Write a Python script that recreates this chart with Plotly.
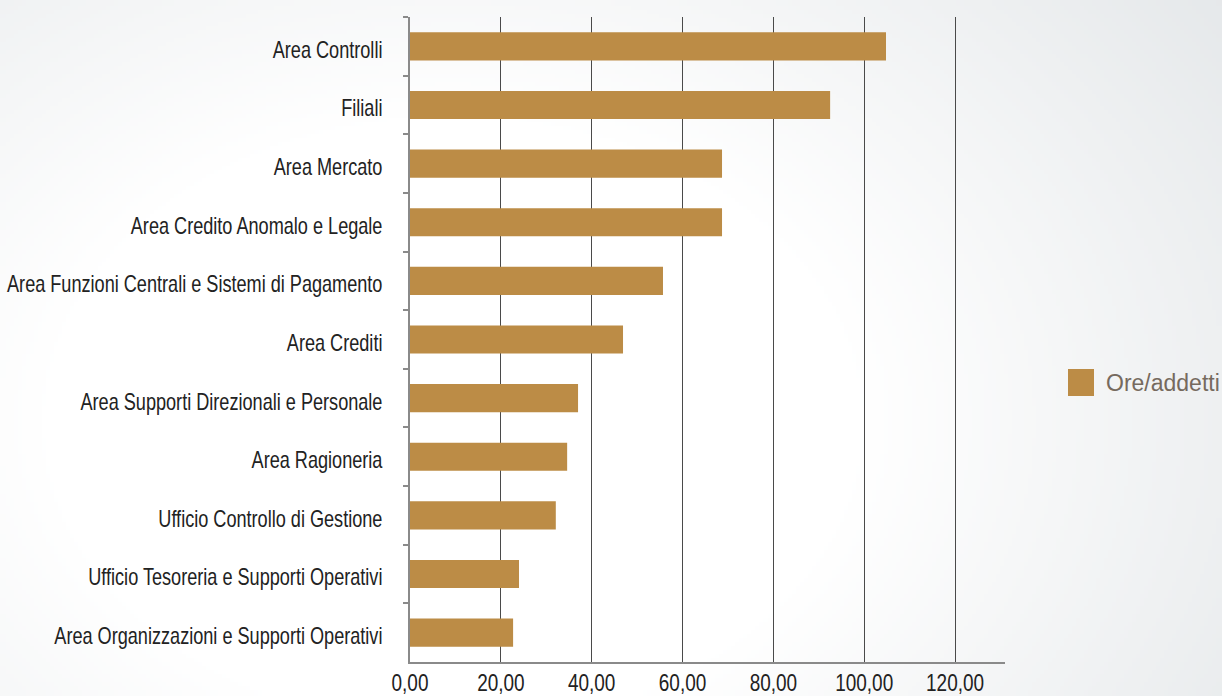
import base64
import struct
import zlib

import numpy as np
import plotly.graph_objects as go

# Ore/addetti per area organizzativa
categories = [
    "Area Controlli",
    "Filiali",
    "Area Mercato",
    "Area Credito Anomalo e Legale",
    "Area Funzioni Centrali e Sistemi di Pagamento",
    "Area Crediti",
    "Area Supporti Direzionali e Personale",
    "Area Ragioneria",
    "Ufficio Controllo di Gestione",
    "Ufficio Tesoreria e Supporti Operativi",
    "Area Organizzazioni e Supporti Operativi",
]
ore_addetti = [104.8, 92.5, 68.7, 68.7, 55.7, 46.9, 37.0, 34.6, 32.1, 24.0, 22.7]
series_name = "Ore/addetti"
x_ticks = [0, 20, 40, 60, 80, 100, 120]

W, H = 1222, 696
L, R, T, B = 410, 217, 17, 34
BAR = "#BC8C46"
LABEL_FONT = "Liberation Sans, Arial, sans-serif"


def gradient_png(w, h, scale=4):
    """Soft radial background: white centre fading to a cool light grey."""
    gw, gh = w // scale, h // scale
    ys, xs = np.mgrid[0:gh, 0:gw].astype(float)
    xs = xs * scale
    ys = ys * scale
    d = np.sqrt(((xs - 450) / 800) ** 2 + ((ys - 420) / 600) ** 2)
    t = np.clip((d - 0.5) / 0.7, 0, 1)[..., None]
    edge = np.array([229, 232, 234], dtype=float)
    white = np.array([255, 255, 255], dtype=float)
    img = (white * (1 - t) + edge * t).round().astype(np.uint8)
    raw = b"".join(b"\x00" + img[r].tobytes() for r in range(gh))

    def chunk(tag, data):
        c = struct.pack(">I", len(data)) + tag + data
        return c + struct.pack(">I", zlib.crc32(tag + data) & 0xFFFFFFFF)

    png = b"\x89PNG\r\n\x1a\n"
    png += chunk(b"IHDR", struct.pack(">IIBBBBB", gw, gh, 8, 2, 0, 0, 0))
    png += chunk(b"IDAT", zlib.compress(raw, 9))
    png += chunk(b"IEND", b"")
    return "data:image/png;base64," + base64.b64encode(png).decode()


pw, ph = W - L - R, H - T - B

fig = go.Figure(
    go.Bar(
        x=ore_addetti,
        y=categories,
        orientation="h",
        name=series_name,
        marker=dict(color=BAR, line=dict(width=0)),
        showlegend=False,
    )
)

# background image spanning the whole page
fig.add_layout_image(
    source=gradient_png(W, H),
    xref="paper",
    yref="paper",
    x=-L / pw,
    y=1 + T / ph,
    sizex=W / pw,
    sizey=H / ph,
    sizing="stretch",
    xanchor="left",
    yanchor="top",
    layer="below",
)

# legend entry: swatch and label
fig.add_shape(
    type="rect",
    xref="paper",
    yref="paper",
    x0=(1068 - L) / pw,
    x1=(1094 - L) / pw,
    y0=1 - (396 - T) / ph,
    y1=1 - (369 - T) / ph,
    fillcolor=BAR,
    line=dict(width=0),
)
fig.add_annotation(
    text=series_name,
    xref="paper",
    yref="paper",
    x=(1104 - L) / pw,
    y=1 - (383 - T) / ph,
    xanchor="left",
    yanchor="middle",
    showarrow=False,
    font=dict(family="Liberation Sans, Arial, sans-serif", size=23, color="#766A5E"),
)

fig.update_layout(
    width=W,
    height=H,
    margin=dict(l=L, r=R, t=T, b=B, pad=0, autoexpand=False),
    paper_bgcolor="rgba(0,0,0,0)",
    plot_bgcolor="rgba(0,0,0,0)",
    bargap=0.52,
    separators=",.",
    font=dict(family=LABEL_FONT, size=24, color="#222222"),
)
fig.update_xaxes(
    range=[0, 131.0],
    tickvals=x_ticks,
    tickformat=".2f",
    showgrid=True,
    gridcolor="#4A4A4A",
    gridwidth=1,
    showline=True,
    linecolor="#8A8A8A",
    linewidth=1.5,
    zeroline=False,
    ticks="",
    ticklabelstandoff=-2,
    automargin=False,
    fixedrange=True,
)
fig.update_yaxes(
    categoryorder="array",
    categoryarray=categories,
    autorange="reversed",
    showline=True,
    linecolor="#8A8A8A",
    linewidth=1.5,
    ticks="outside",
    tickson="boundaries",
    ticklen=5,
    tickcolor="#8A8A8A",
    tickwidth=1.5,
    showgrid=False,
    ticklabelstandoff=21,
    automargin=False,
    fixedrange=True,
)

# narrow the axis labels horizontally around their anchor points
condense_js = """
var gd = document.getElementById('{plot_id}');
function condense(sel, s, dy) {
  gd.querySelectorAll(sel).forEach(function (t) {
    var x = parseFloat(t.getAttribute('x')) || 0;
    var tr = t.getAttribute('transform') || '';
    t.setAttribute('transform', tr + ' translate(' + x + ',' + dy + ') scale(' + s + ',1) translate(' + (-x) + ',0)');
  });
}
condense('g.ytick text', 0.755, 3);
condense('g.xtick text', 0.79, 0);
"""

fig.write_html("out.html", post_script=condense_js)
